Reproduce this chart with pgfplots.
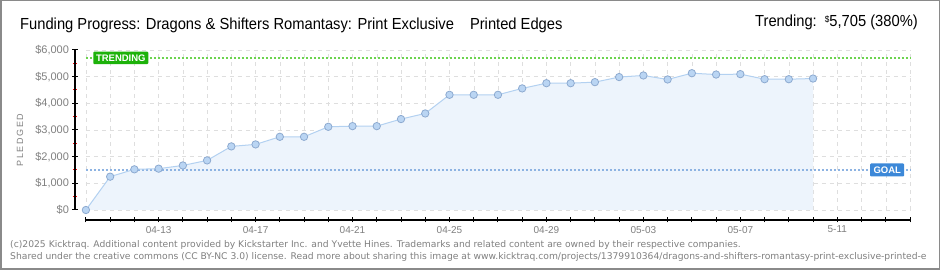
\documentclass[border=0pt]{standalone}
\usepackage{fontspec}
\setmainfont{Liberation Sans}
\newfontfamily\titlefont[FakeStretch=0.92]{Liberation Sans}
\newfontfamily\footfont{DejaVu Sans}
\newfontfamily\spacedfont[LetterSpace=18]{Liberation Sans}
\usepackage{pgfplots}
\pgfplotsset{compat=1.18}
\usepackage{pgfplotstable}
\definecolor{gridcol}{HTML}{DEDEDE}
\definecolor{areafill}{HTML}{EDF4FC}
\definecolor{linecol}{HTML}{B3D1F1}
\definecolor{markfill}{HTML}{BAD5F3}
\definecolor{markdraw}{HTML}{8DAAD0}
\definecolor{trendline}{HTML}{6CD44E}
\definecolor{trendbox}{HTML}{1DB20A}
\definecolor{goalline}{HTML}{8DB3E2}
\definecolor{goalbox}{HTML}{3C88D8}
\definecolor{labgray}{HTML}{808080}
\definecolor{bordergray}{HTML}{8A8A8A}

\pgfplotstableread{
day value
0 0
1 1250
2 1525
3 1550
4 1670
5 1860
6 2385
7 2460
8 2745
9 2745
10 3120
11 3145
12 3145
13 3410
14 3620
15 4320
16 4320
17 4320
18 4560
19 4755
20 4755
21 4795
22 4985
23 5045
24 4895
25 5130
26 5080
27 5095
28 4905
29 4905
30 4930
}\pledged

\begin{document}
\begin{tikzpicture}[x=1pt,y=1pt]
\useasboundingbox (0,0) rectangle (940,270);
\fill[white] (0,0) rectangle (940,270);
\begin{axis}[
  at={(75pt,50pt)}, anchor=south west,
  scale only axis, width=835pt, height=170pt,
  xmin=-0.45, xmax=34, ymin=-375, ymax=6000,
  axis line style={draw=none},
  xtick={0,...,34},
  xticklabels={,,,04-13,,,,04-17,,,,04-21,,,,04-25,,,,04-29,,,,05-03,,,,05-07,,,,5-11,,,},
  xtick pos=bottom, ytick pos=left,
  ytick={0,1000,...,6000},
  yticklabels={\$0,{\$1,000},{\$2,000},{\$3,000},{\$4,000},{\$5,000},{\$6,000}},
  minor ytick={500,1500,...,5500},
  tick align=center,
  major tick length=5pt, minor tick length=4pt,
  major tick style={black, line width=1pt},
  minor tick style={red, line width=1pt},
  xticklabel style={font=\fontsize{10}{10}\selectfont, text=labgray},
  yticklabel style={font=\fontsize{11}{11}\selectfont, text=labgray},
  clip=false,
]
\pgfplotsinvokeforeach{0,...,34}{
  \draw[gridcol, dash pattern=on 4pt off 4pt] (axis cs:#1,0) -- (axis cs:#1,6000);
}
\pgfplotsinvokeforeach{0,1000,...,6000}{
  \draw[gridcol, dash pattern=on 4pt off 4pt] (axis cs:0,#1) -- (axis cs:34,#1);
}
\addplot[fill=areafill, draw=none, forget plot] table[x=day, y=value] {\pledged} \closedcycle;
\draw[black, line width=1.3pt] (axis cs:-0.45,0) -- (axis cs:-0.45,6000);
\draw[black, line width=1.3pt] (axis cs:0,-375) -- (axis cs:34,-375);
\draw[trendline, line width=2.5pt, dash pattern=on 2.5pt off 1.5pt] (axis cs:0,5705) -- (axis cs:34,5705);
\draw[goalline, line width=2.5pt, dash pattern=on 2.5pt off 1.5pt] (axis cs:0,1500) -- (axis cs:34,1500);
\addplot[color=linecol, line width=1pt, mark=*, mark size=3.7pt,
  mark options={fill=markfill, draw=markdraw, line width=0.8pt}] table[x=day, y=value] {\pledged};
\node[fill=trendbox, text=white, font=\bfseries\fontsize{9.5}{9.5}\selectfont, minimum width=55pt, minimum height=12.5pt, inner sep=1pt, rounded corners=1pt] at (axis cs:1.44,5705) {TRENDING};
\node[fill=goalbox, text=white, font=\bfseries\fontsize{9.5}{9.5}\selectfont, minimum width=34pt, minimum height=13pt, inner sep=1pt, rounded corners=1pt] at (axis cs:33.06,1500) {GOAL};
\end{axis}
\node[anchor=base west, inner sep=0pt, font=\titlefont\fontsize{16}{16}\selectfont] at (20,240) {Funding Progress: Dragons \& Shifters Romantasy: Print Exclusive\quad Printed Edges};
\node[anchor=base east, inner sep=0pt, font=\titlefont\fontsize{16}{16}\selectfont] at (918,243) {Trending:\enspace\raisebox{4pt}{\fontsize{9}{9}\selectfont\$}5,705 (380\%)};
\node[rotate=90, text=labgray, font=\spacedfont\fontsize{9}{9}\selectfont] at (20,130) {PLEDGED};
\node[anchor=base west, text=labgray, font=\footfont\fontsize{9.2}{9.2}\selectfont, inner sep=0pt] at (10,22) {(c)2025 Kicktraq. Additional content provided by Kickstarter Inc. and Yvette Hines. Trademarks and related content are owned by their respective companies.};
\node[anchor=base west, text=labgray, font=\footfont\fontsize{9.2}{9.2}\selectfont, inner sep=0pt] at (10,10) {Shared under the creative commons (CC BY-NC 3.0) license. Read more about sharing this image at www.kicktraq.com/projects/1379910364/dragons-and-shifters-romantasy-print-exclusive-printed-e};
\draw[bordergray, line width=1.5pt] (0.75,0.75) rectangle (939.25,269.25);
\end{tikzpicture}
\end{document}
